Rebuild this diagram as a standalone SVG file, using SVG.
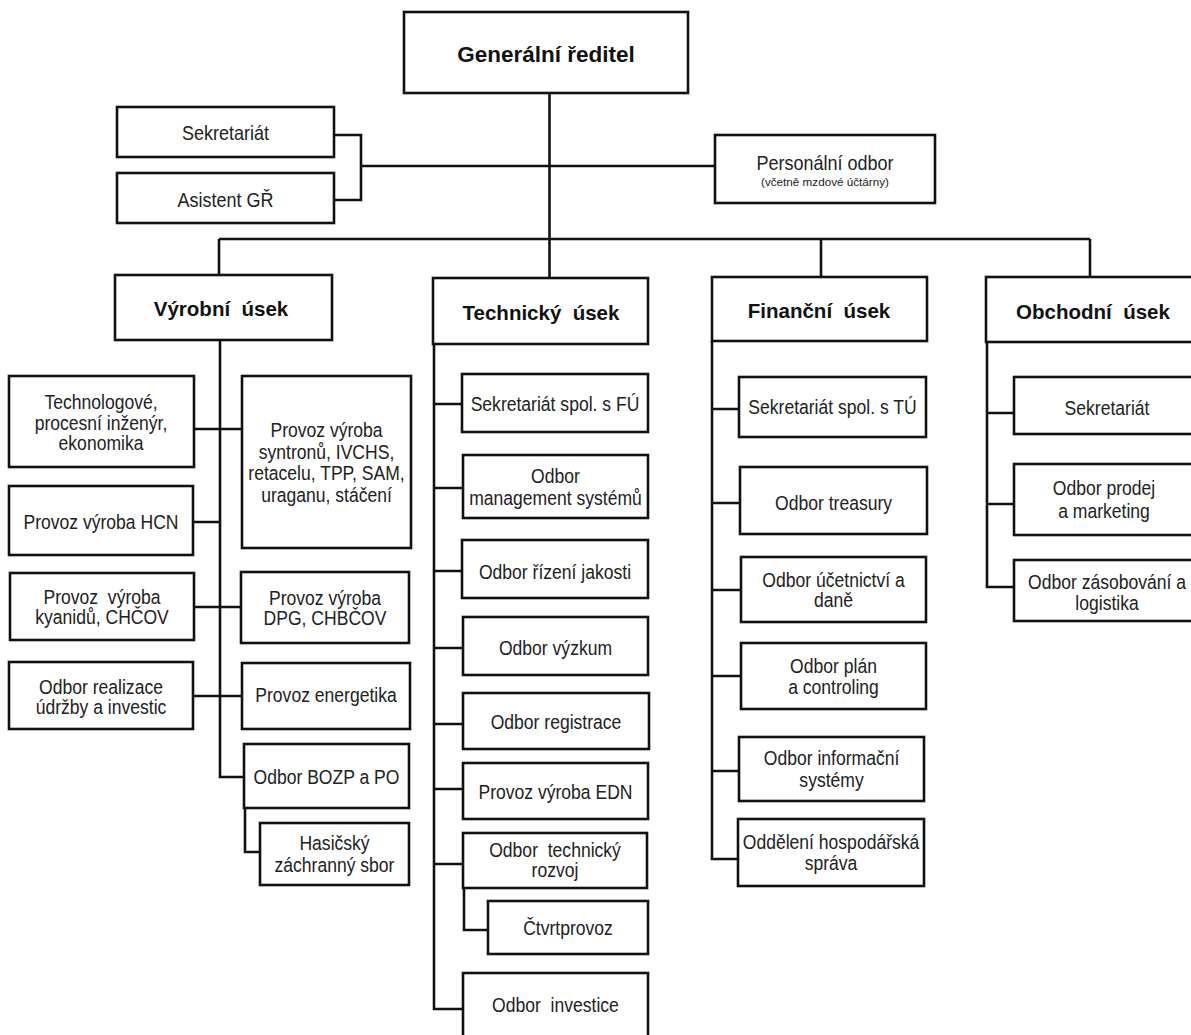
<svg xmlns="http://www.w3.org/2000/svg" width="1191" height="1035" viewBox="0 0 1191 1035">
<style>
.b{fill:#fff;stroke:#111;stroke-width:2.6}
.c{fill:none;stroke:#111;stroke-width:2.6}
.t{font-family:"Liberation Sans",Arial,sans-serif;font-size:19.5px;fill:#222;text-anchor:middle;white-space:pre;transform:scaleX(0.9);transform-box:fill-box;transform-origin:center}
.u{font-size:20px}
.h{font-family:"Liberation Sans",Arial,sans-serif;font-size:20.5px;font-weight:bold;fill:#111;text-anchor:middle;white-space:pre}
.g{font-size:22.5px}
.s{font-family:"Liberation Sans",Arial,sans-serif;font-size:10px;fill:#222;text-anchor:middle}
</style>
<rect width="1191" height="1035" fill="#fff"/>
<g id="connectors">
<path class="c" d="M549.5,93V278"/>
<path class="c" d="M334,135H361V200H334M361,166H715"/>
<path class="c" d="M219,239H1090M219,239V275M821,239V277M1090,239V277"/>
<path class="c" d="M220,340V777H244M194,429H242M193,522H220M194,607H241M193,696H242M245,808V852H260"/>
<path class="c" d="M434,344V1009H463M434,404H462M434,488H463M434,571H462M434,648H463M434,724H463M434,789H463M434,864H463M464,888V930H488"/>
<path class="c" d="M712,341V859H738M712,409H739M712,503H740M712,590H741M712,676H741M712,771H739"/>
<path class="c" d="M987,342V587H1014M987,413H1014M987,504H1014"/>
</g>
<g id="gr"><rect class="b" x="404" y="12" width="284" height="81"/><text class="h g" x="546" y="62">Generální ředitel</text></g>
<g id="sekretariat"><rect class="b" x="117" y="107" width="217" height="50"/><text class="t u" x="225.5" y="140">Sekretariát</text></g>
<g id="asistent"><rect class="b" x="117" y="173" width="217" height="50"/><text class="t u" x="225.5" y="207">Asistent GŘ</text></g>
<g id="personalni"><rect class="b" x="715" y="135" width="220" height="68"/><text class="t u" x="825" y="170">Personální odbor</text><text class="s" x="825" y="186" textLength="128" lengthAdjust="spacingAndGlyphs">(včetně mzdové účtárny)</text></g>

<g id="vyrobni"><rect class="b" x="115" y="275" width="217" height="65"/><text class="h" x="221" y="316" xml:space="preserve">Výrobní  úsek</text></g>
<g id="technologove"><rect class="b" x="9" y="376" width="185" height="91"/><text class="t" x="101" y="409">Technologové,</text><text class="t" x="101" y="430">procesní inženýr,</text><text class="t" x="101" y="450">ekonomika</text></g>
<g id="syntrony"><rect class="b" x="242" y="376" width="169" height="172"/><text class="t" x="326.5" y="437">Provoz výroba</text><text class="t" x="326.5" y="459">syntronů, IVCHS,</text><text class="t" x="326.5" y="480">retacelu, TPP, SAM,</text><text class="t" x="326.5" y="502">uraganu, stáčení</text></g>
<g id="hcn"><rect class="b" x="9" y="486" width="184" height="69"/><text class="t" x="101" y="529">Provoz výroba HCN</text></g>
<g id="kyanidy"><rect class="b" x="10" y="573" width="184" height="67"/><text class="t" x="102" y="604" xml:space="preserve">Provoz  výroba</text><text class="t" x="102" y="624">kyanidů, CHČOV</text></g>
<g id="dpg"><rect class="b" x="241" y="572" width="168" height="71"/><text class="t" x="325" y="605">Provoz výroba</text><text class="t" x="325" y="625">DPG, CHBČOV</text></g>
<g id="realizace"><rect class="b" x="9" y="662" width="184" height="67"/><text class="t" x="101" y="694">Odbor realizace</text><text class="t" x="101" y="714">údržby a investic</text></g>
<g id="energetika"><rect class="b" x="242" y="663" width="168" height="66"/><text class="t" x="326" y="702">Provoz energetika</text></g>
<g id="bozp"><rect class="b" x="244" y="744" width="165" height="64"/><text class="t" x="326.5" y="784">Odbor BOZP a PO</text></g>
<g id="hasicsky"><rect class="b" x="260" y="823" width="149" height="62"/><text class="t" x="334.5" y="850">Hasičský</text><text class="t" x="334.5" y="872">záchranný sbor</text></g>

<g id="technicky"><rect class="b" x="433" y="278" width="215" height="66"/><text class="h" x="541" y="320" xml:space="preserve">Technický  úsek</text></g>
<g id="sekr-fu"><rect class="b" x="462" y="374" width="186" height="58"/><text class="t" x="555" y="411">Sekretariát spol. s FÚ</text></g>
<g id="management"><rect class="b" x="463" y="455" width="185" height="63"/><text class="t" x="555.5" y="483">Odbor</text><text class="t" x="555.5" y="505">management systémů</text></g>
<g id="jakost"><rect class="b" x="462" y="540" width="186" height="58"/><text class="t" x="555" y="579">Odbor řízení jakosti</text></g>
<g id="vyzkum"><rect class="b" x="463" y="617" width="185" height="58"/><text class="t" x="555.5" y="655">Odbor výzkum</text></g>
<g id="registrace"><rect class="b" x="463" y="693" width="186" height="56"/><text class="t" x="556" y="729">Odbor registrace</text></g>
<g id="edn"><rect class="b" x="463" y="763" width="185" height="56"/><text class="t" x="555.5" y="799">Provoz výroba EDN</text></g>
<g id="rozvoj"><rect class="b" x="463" y="833" width="184" height="55"/><text class="t" x="555" y="857" xml:space="preserve">Odbor  technický</text><text class="t" x="555" y="877">rozvoj</text></g>
<g id="ctvrtprovoz"><rect class="b" x="488" y="901" width="160" height="53"/><text class="t" x="568" y="935">Čtvrtprovoz</text></g>
<g id="investice"><rect class="b" x="463" y="973" width="185" height="72"/><text class="t" x="555.5" y="1012" xml:space="preserve">Odbor  investice</text></g>

<g id="financni"><rect class="b" x="712" y="277" width="215" height="64"/><text class="h" x="819" y="318" xml:space="preserve">Finanční  úsek</text></g>
<g id="sekr-tu"><rect class="b" x="739" y="377" width="187" height="60"/><text class="t" x="832.5" y="414">Sekretariát spol. s TÚ</text></g>
<g id="treasury"><rect class="b" x="740" y="467" width="187" height="67"/><text class="t" x="833.5" y="510">Odbor treasury</text></g>
<g id="ucetnictvi"><rect class="b" x="741" y="557" width="185" height="65"/><text class="t" x="833.5" y="587">Odbor účetnictví a</text><text class="t" x="833.5" y="607">daně</text></g>
<g id="plan"><rect class="b" x="741" y="643" width="185" height="66"/><text class="t" x="833.5" y="673">Odbor plán</text><text class="t" x="833.5" y="694">a controling</text></g>
<g id="informacni"><rect class="b" x="739" y="737" width="185" height="64"/><text class="t" x="831.5" y="765">Odbor informační</text><text class="t" x="831.5" y="787">systémy</text></g>
<g id="hospodarska"><rect class="b" x="738" y="819" width="186" height="67"/><text class="t" x="831" y="849">Oddělení hospodářská</text><text class="t" x="831" y="870">správa</text></g>

<g id="obchodni"><rect class="b" x="986" y="277" width="220" height="65"/><text class="h" x="1093" y="319" xml:space="preserve">Obchodní  úsek</text></g>
<g id="sekr-ou"><rect class="b" x="1014" y="377" width="192" height="57"/><text class="t" x="1107" y="415">Sekretariát</text></g>
<g id="prodej"><rect class="b" x="1014" y="464" width="192" height="71"/><text class="t" x="1104" y="495">Odbor prodej</text><text class="t" x="1104" y="518">a marketing</text></g>
<g id="zasobovani"><rect class="b" x="1014" y="560" width="192" height="61"/><text class="t" x="1107" y="589">Odbor zásobování a</text><text class="t" x="1107" y="610">logistika</text></g>
</svg>
